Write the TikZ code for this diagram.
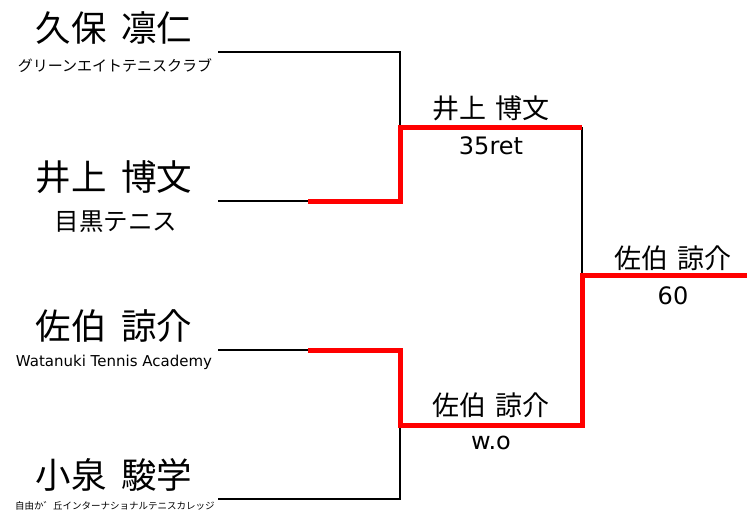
\documentclass[tikz,border=0pt]{standalone}
\usepackage{fontspec}
\setmainfont{Noto Sans CJK JP}
\newfontfamily\latinfont{DejaVu Sans}
\usetikzlibrary{positioning}
\tikzset{
  player/.style={font=\fontsize{35.5}{35.5}\selectfont, inner sep=0pt},
  club/.style={font=\fontsize{#1}{#1}\selectfont, inner sep=0pt},
  winner/.style={font=\fontsize{27}{27}\selectfont, inner sep=0pt},
  score/.style={font=\latinfont\fontsize{24}{24}\selectfont, inner sep=0pt},
  lose/.style={line width=2.5pt, black},
  win/.style={line width=5pt, red},
}

\begin{document}
\begin{tikzpicture}[x=1pt, y=-1pt]
	\useasboundingbox (0,0) rectangle (747,515);
	
	% players
	\node[player] (p1) at (114,28) {久保\hspace{0.4em}凛仁};
	\node[club=15] (k1) at (115,66) {グリーンエイトテニスクラブ};
	\node[player] (p2) at (114,177) {井上\hspace{0.4em}博文};
	\node[club=24.5] (k2) at (116,222) {目黒テニス};
	\node[club=15, font=\latinfont\fontsize{15}{15}\selectfont] (k3) at (114,362) {Watanuki Tennis Academy};
	\node[player] (p3) at (114,326) {佐伯\hspace{0.4em}諒介};
	\node[player] (p4) at (114,475) {小泉\hspace{0.4em}駿学};
	\node[club=9.5] (k4) at (115,506) {自由か゛丘インターナショナルテニスカレッジ};
	
	% bracket points
	\coordinate (a1) at (218,52);
	\coordinate (b1) at (400,52);
	\coordinate (a2) at (218,201);
	\coordinate (m2) at (308,201);
	\coordinate (b2) at (400,201);
	\coordinate (a3) at (218,350);
	\coordinate (m3) at (308,350);
	\coordinate (b3) at (400,350);
	\coordinate (a4) at (218,499);
	\coordinate (b4) at (400,499);
	\coordinate (s1) at (400,127);
	\coordinate (e1) at (582,127);
	\coordinate (s2) at (400,425);
	\coordinate (e2) at (582,425);
	\coordinate (f1) at (582,275);
	\coordinate (f2) at (747,275);
	
	\draw[lose] (a1) -- (b1) -- (s1);
	\draw[lose] (a2) -- (m2);
	\draw[lose] (a3) -- (m3);
	\draw[lose] (a4) -- (b4) -- (s2);
	\draw[lose] (e1) -- (f1);
	
	\draw[win, line join=miter] (m2) -- (b2) -- (s1) -- (e1);
	\draw[win, line join=miter] (m3) -- (b3) -- (s2) -- (e2) -- (f1) -- (f2);
	
	% results
	\node[winner] (w1) at (491,108) {井上\hspace{0.35em}博文};
	\node[score] (r1) at (491,146) {35ret};
	\node[winner] (w2) at (491,405) {佐伯\hspace{0.35em}諒介};
	\node[score] (r2) at (491,443) {w.o};
	\node[winner] (w3) at (673,258) {佐伯\hspace{0.35em}諒介};
	\node[score] (r3) at (673,296) {60};
\end{tikzpicture}
\end{document}
